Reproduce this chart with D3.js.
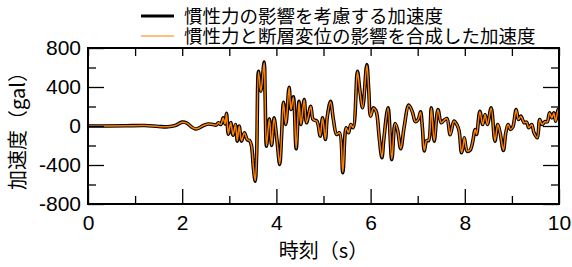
<!DOCTYPE html>
<html>
<head>
<meta charset="utf-8">
<script src="https://cdn.jsdelivr.net/npm/d3@7"></script>
<style>
  body { margin: 0; background: #fff; }
  svg { display: block; }
</style>
</head>
<body>
<script>
// time (s)
const time = [
  0.0, 0.4, 0.8, 1.2, 1.5, 1.7, 1.85, 2.0, 2.1, 2.2, 2.28, 2.36, 2.45, 2.55, 2.65, 2.72, 2.77, 2.82, 2.87, 2.91,
  2.94, 2.98, 3.03, 3.08, 3.13, 3.17, 3.21, 3.26, 3.32, 3.38, 3.43, 3.47, 3.51, 3.55, 3.58, 3.62, 3.67, 3.74, 3.76, 3.79,
  3.85, 3.90, 3.95, 4.01, 4.07, 4.11, 4.15, 4.20, 4.27, 4.31, 4.36, 4.42, 4.48, 4.52, 4.59, 4.64, 4.73, 4.78, 4.86, 4.93,
  4.98, 5.04, 5.08, 5.15, 5.21, 5.28, 5.34, 5.41, 5.48, 5.53, 5.58, 5.63, 5.72, 5.77, 5.83, 5.92, 5.96, 6.00, 6.06, 6.11,
  6.14, 6.18, 6.24, 6.28, 6.37, 6.45, 6.52, 6.57, 6.64, 6.71, 6.81, 6.89, 6.95, 7.01, 7.06, 7.10, 7.14, 7.19, 7.23, 7.29,
  7.35, 7.43, 7.50, 7.56, 7.62, 7.69, 7.77, 7.84, 7.88, 7.93, 7.96, 7.99, 8.05, 8.11, 8.16, 8.22, 8.25, 8.32, 8.38, 8.43,
  8.48, 8.56, 8.64, 8.70, 8.75, 8.82, 8.87, 8.92, 8.97, 9.02, 9.09, 9.14, 9.19, 9.26, 9.31, 9.36, 9.42, 9.47, 9.54, 9.59,
  9.64, 9.70, 9.75, 9.80, 9.85, 9.89, 9.93, 9.98, 10.0
];

// 慣性力の影響を考慮する加速度 (gal)
const accInertia = [
  0, 0, 2, 5, -5, -8, 5, 40, 30, -10, -30, -20, 5, 20, 15, 10, 33, 15, 85, 20,
  130, -85, 35, -95, 15, -155, 0, -155, -70, -140, -150, -200, -420, -566, -300, 562, 357, 655, 330, -207,
  74, -200, 84, -138, -395, -100, 244, 15, 398, 169, 300, -234, 254, 15, 272, 33, 203, 67, 49, -105,
  84, -138, 94, 254, 67, -87, -70, -480, -18, -70, 15, -18, 562, 374, 187, 631, 374, 101, 187, 160,
  101, -105, -326, -138, 187, -344, 26, -36, -234, -18, 215, 140, 45, 67, 145, -20, -255, -150, -150, 187,
  -156, 169, 33, 60, 77, -90, 50, 5, -53, -275, -224, -121, -258, -251, -180, -36, -87, 152, 15, 118,
  15, 187, -156, 15, -70, -251, -70, 15, -36, -10, 169, 67, 101, 33, 40, -18, 15, -70, -121, 67,
  15, 45, 43, 135, 84, 135, 49, 169, 150
];

// 慣性力と断層変位の影響を合成した加速度 (gal)
const accCombined = [
  0, 0, 2, 5, -5, -8, 5, 38, 30, -10, -28, -20, 5, 20, 15, 10, 33, 15, 82, 20,
  128, -83, 35, -93, 15, -152, 0, -152, -70, -138, -148, -198, -418, -560, -298, 556, 354, 648, 328, -205,
  72, -198, 82, -136, -390, -100, 240, 15, 394, 167, 296, -230, 250, 15, 268, 33, 200, 66, 48, -103,
  83, -136, 93, 250, 66, -86, -69, -474, -18, -69, 15, -18, 556, 370, 185, 624, 370, 100, 185, 158,
  100, -103, -322, -136, 185, -340, 26, -36, -231, -18, 212, 138, 45, 66, 143, -20, -252, -148, -148, 185,
  -154, 167, 33, 59, 76, -89, 49, 5, -52, -272, -221, -120, -255, -248, -178, -36, -86, 150, 15, 117,
  15, 185, -154, 15, -69, -248, -69, 15, -36, -10, 167, 66, 100, 33, 40, -18, 15, -69, -120, 66,
  15, 44, 42, 133, 83, 133, 48, 167, 148
];

const xTicksMajor = [0, 2, 4, 6, 8, 10];
const xTicksMinor = [1, 3, 5, 7, 9];
const yTicksMajor = [-800, -400, 0, 400, 800];
const yTicksMinor = [-600, -200, 200, 600];

const seriesNames = ["慣性力の影響を考慮する加速度", "慣性力と断層変位の影響を合成した加速度"];

const width = 572;
const height = 267;
const margin = { top: 48, right: 13, bottom: 63, left: 88 };
const chartWidth = width - margin.left - margin.right;
const chartHeight = height - margin.top - margin.bottom;

const numFont = "'Liberation Sans', Arial, sans-serif";
const cjkFont = "'Noto Sans CJK JP', sans-serif";

const xScale = d3.scaleLinear().domain([0, 10]).range([0, chartWidth]);
const yScale = d3.scaleLinear().domain([-800, 800]).range([chartHeight, 0]);

const svg = d3.select("body")
    .append("svg")
    .attr("width", width)
    .attr("height", height);

const chart = svg.append("g")
    .attr("transform", `translate(${margin.left}, ${margin.top})`);

svg.append("clipPath")
    .attr("id", "clip")
    .append("rect")
    .attr("width", chartWidth)
    .attr("height", chartHeight);

// lines
const points1 = time.map((t, i) => ({ t: t, v: accInertia[i] }));
const points2 = time.map((t, i) => ({ t: t, v: accCombined[i] }));

const line = d3.line()
    .x(d => xScale(d.t))
    .y(d => yScale(d.v))
    .curve(d3.curveCatmullRom.alpha(0.5));

const linesGroup = chart.append("g").attr("clip-path", "url(#clip)");

linesGroup.append("path")
    .datum(points1)
    .attr("d", line)
    .attr("fill", "none")
    .attr("stroke", "#000")
    .attr("stroke-width", 3.6)
    .attr("stroke-linejoin", "round");

linesGroup.append("path")
    .datum(points2)
    .attr("d", line)
    .attr("fill", "none")
    .attr("stroke", "#ff8000")
    .attr("stroke-width", 1.5)
    .attr("stroke-linejoin", "round");

// axes (ticks inward)
function styleAxis(g) {
    g.select(".domain").remove();
    g.selectAll(".tick line").attr("stroke", "#000").attr("stroke-width", 1.3);
    g.selectAll(".tick text")
        .attr("fill", "#000")
        .style("font-family", numFont)
        .style("font-size", "21px");
}

chart.append("g")
    .attr("transform", `translate(0, ${chartHeight})`)
    .call(d3.axisBottom(xScale).tickValues(xTicksMajor).tickSizeInner(-15).tickSizeOuter(0).tickPadding(11).tickFormat(d => d))
    .call(styleAxis);

chart.append("g")
    .attr("transform", `translate(0, ${chartHeight})`)
    .call(d3.axisBottom(xScale).tickValues(xTicksMinor).tickSizeInner(-8).tickSizeOuter(0).tickFormat(""))
    .call(styleAxis);

chart.append("g")
    .call(d3.axisTop(xScale).tickValues(xTicksMajor.concat(xTicksMinor)).tickSizeInner(-8).tickSizeOuter(0).tickFormat(""))
    .call(styleAxis);

chart.append("g")
    .call(d3.axisLeft(yScale).tickValues(yTicksMajor).tickSizeInner(-16).tickSizeOuter(0).tickPadding(7).tickFormat(d => d))
    .call(styleAxis);

chart.append("g")
    .call(d3.axisLeft(yScale).tickValues(yTicksMinor).tickSizeInner(-8).tickSizeOuter(0).tickFormat(""))
    .call(styleAxis);

chart.append("g")
    .attr("transform", `translate(${chartWidth}, 0)`)
    .call(d3.axisRight(yScale).tickValues(yTicksMajor).tickSizeInner(-16).tickSizeOuter(0).tickFormat(""))
    .call(styleAxis);

chart.append("g")
    .attr("transform", `translate(${chartWidth}, 0)`)
    .call(d3.axisRight(yScale).tickValues(yTicksMinor).tickSizeInner(-8).tickSizeOuter(0).tickFormat(""))
    .call(styleAxis);

// frame
chart.append("rect")
    .attr("width", chartWidth)
    .attr("height", chartHeight)
    .attr("fill", "none")
    .attr("stroke", "#000")
    .attr("stroke-width", 2);

// axis titles
svg.append("text")
    .attr("x", margin.left + chartWidth / 2)
    .attr("y", 258)
    .attr("text-anchor", "middle")
    .style("font-family", cjkFont)
    .style("font-size", "20px")
    .text("時刻（s）");

svg.append("text")
    .attr("transform", `translate(25, ${margin.top + chartHeight / 2}) rotate(-90)`)
    .attr("text-anchor", "middle")
    .style("font-family", cjkFont)
    .style("font-size", "20px")
    .text("加速度（gal）");

// legend
const legend = svg.append("g");
const legendStyles = [
    { color: "#000", width: 3.2 },
    { color: "#ff8000", width: 1.2 }
];

seriesNames.forEach((name, i) => {
    const y = 16 + i * 20;
    legend.append("line")
        .attr("x1", 141).attr("x2", 174)
        .attr("y1", y).attr("y2", y)
        .attr("stroke", legendStyles[i].color)
        .attr("stroke-width", legendStyles[i].width);
    legend.append("text")
        .attr("x", 184)
        .attr("y", y + 7)
        .style("font-family", cjkFont)
        .style("font-size", "18.5px")
        .text(name);
});
</script>
</body>
</html>
